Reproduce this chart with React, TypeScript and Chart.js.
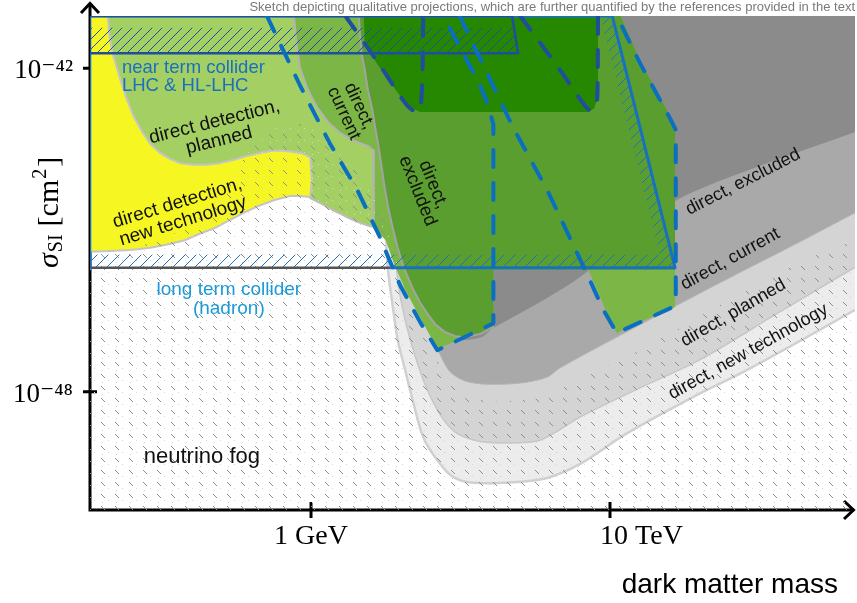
import React, { useEffect, useRef } from 'react';
import { Chart, registerables } from 'chart.js';

Chart.register(...registerables);

type Pt = [number, number];

// x = log10(dark matter mass / GeV), y = log10(sigma_SI / cm^2)
const X_RANGE: Pt = [-2.957, 7.278];
const Y_RANGE: Pt = [-50.195, -41.03];
const X_TICKS = [0, 4];
const X_TICK_LABELS = ['1 GeV', '\u2007\u2007\u2007\u2007 10 TeV'];
const Y_TICKS = [-42, -48];
const Y_TICK_LABELS = ['10⁻⁴²', '10⁻⁴⁸'];
const NOTE = 'Sketch depicting qualitative projections, which are further quantified by the references provided in the text';
const X_TITLE = 'dark matter mass';

// grey direct-detection bands (nested U shapes)
const DD_NEWTECH: Pt[] = [[1.00,-40.8],[1.00,-45.00],[1.03,-45.74],[1.10,-46.48],[1.16,-47.04],[1.26,-47.60],[1.37,-48.21],[1.50,-48.84],[1.69,-49.27],[1.90,-49.58],[2.17,-49.69],[2.70,-49.68],[3.16,-49.60],[3.60,-49.34],[4.23,-48.77],[5.11,-48.10],[5.83,-47.60],[7.28,-46.48],[7.6,-46.2],[7.6,-40.8]];
const DD_PLANNED: Pt[] = [[1.12,-40.8],[1.12,-45.00],[1.16,-45.93],[1.26,-46.67],[1.39,-47.32],[1.53,-47.88],[1.73,-48.43],[1.93,-48.75],[2.19,-48.90],[2.53,-48.95],[3.06,-48.90],[3.60,-48.47],[4.40,-47.93],[5.20,-47.41],[6.27,-46.52],[7.28,-45.69],[7.6,-45.45],[7.6,-40.8]];
const DD_CURRENT: Pt[] = [[1.59,-40.8],[1.59,-46.30],[1.62,-46.95],[1.73,-47.32],[1.86,-47.63],[2.06,-47.80],[2.33,-47.86],[2.80,-47.84],[3.16,-47.73],[3.33,-47.56],[4.40,-46.76],[5.47,-45.98],[6.54,-45.22],[7.28,-44.68],[7.6,-44.45],[7.6,-40.8]];
const DD_EXCLUDED: Pt[] = [[1.93,-40.8],[1.93,-46.97],[2.26,-47.00],[2.44,-46.82],[3.06,-46.34],[3.60,-45.87],[4.27,-45.11],[4.90,-44.44],[6.01,-43.81],[7.28,-43.18],[7.6,-43.0],[7.6,-40.8]];

// low-mass direct detection (green / yellow)
const PLANNED_EDGE: Pt[] = [[-2.73,-40.8],[-2.70,-41.38],[-2.65,-41.75],[-2.60,-41.98],[-2.53,-42.31],[-2.46,-42.59],[-2.37,-42.90],[-2.25,-43.20],[-2.14,-43.42],[-2.02,-43.57],[-1.89,-43.68],[-1.75,-43.76],[-1.58,-43.79],[-1.39,-43.79],[-1.22,-43.76],[-1.04,-43.70],[-0.86,-43.63],[-0.68,-43.57],[-0.52,-43.53],[-0.38,-43.53],[-0.25,-43.55],[-0.15,-43.57],[-0.07,-43.61],[-0.01,-43.66]];
const PLANNED_LOWER: Pt[] = [[0.96,-44.96],[0.79,-44.93],[0.62,-44.85],[0.45,-44.74],[0.29,-44.63],[0.15,-44.52],[-0.01,-44.41]];
const NEWTECH_EDGE: Pt[] = [[0.01,-44.07],[-0.01,-44.39],[-0.15,-44.37],[-0.28,-44.37],[-0.48,-44.44],[-0.68,-44.54],[-0.88,-44.67],[-1.08,-44.81],[-1.28,-44.96],[-1.49,-45.07],[-1.69,-45.19],[-1.89,-45.26],[-2.15,-45.33],[-2.42,-45.37],[-2.69,-45.39],[-3.1,-45.41]];
const CURRENT_EDGE: Pt[] = [[-0.24,-40.8],[-0.20,-41.47],[-0.15,-41.98],[-0.05,-42.37],[0.08,-42.72],[0.23,-43.00],[0.39,-43.20],[0.52,-43.31],[0.66,-43.39],[0.76,-43.44],[0.83,-43.52],[0.84,-43.79],[0.84,-44.96]];
const CURRENT_REST: Pt[] = [[1.00,-45.19],[1.10,-45.59],[1.26,-46.11],[1.46,-46.63],[1.69,-47.21],[2.06,-46.99],[2.44,-46.76],[2.44,-45.74],[3.71,-45.74],[3.84,-46.15],[3.97,-46.58],[4.09,-46.91],[4.47,-46.67],[4.87,-46.43],[4.87,-43.05],[4.40,-41.85],[4.07,-40.8]];
const EXCLUDED_EDGE: Pt[] = [[0.63,-40.8],[0.66,-41.47],[0.68,-41.75],[0.72,-42.03],[0.76,-42.40],[0.82,-42.77],[0.86,-43.11],[0.90,-43.42],[0.94,-43.79],[0.99,-44.26],[1.04,-44.63],[1.10,-45.00],[1.16,-45.33],[1.23,-45.65],[1.30,-45.89],[1.37,-46.11],[1.46,-46.35],[1.57,-46.58],[1.67,-46.76],[1.79,-46.89],[1.93,-46.97],[2.06,-46.99],[2.26,-46.93],[2.44,-46.80]];
const EXCLUDED_REST: Pt[] = [[2.44,-45.74],[4.87,-45.74],[4.87,-43.05],[4.40,-41.85],[4.07,-40.8]];
const DARK_GREEN: Pt[] = [[0.70,-40.8],[3.84,-40.8],[3.84,-42.50],[3.79,-42.74],[3.71,-42.81],[1.46,-42.81],[1.35,-42.74],[1.19,-42.51],[0.92,-41.99],[0.72,-41.57]];

// neutrino fog
const FOG: Pt[] = [[-3.1,-45.41],[-2.29,-45.30],[-1.62,-44.96],[-1.15,-44.17],[-0.82,-43.52],[-0.48,-43.11],[-0.15,-43.03],[0.19,-43.24],[0.52,-43.79],[0.82,-44.26],[1.12,-45.28],[1.19,-45.74],[1.28,-46.30],[1.46,-46.86],[1.66,-47.32],[1.79,-47.78],[2.06,-48.12],[2.53,-48.19],[3.06,-48.12],[3.60,-47.78],[4.40,-47.23],[5.47,-46.39],[6.54,-45.59],[7.6,-45.0],[7.6,-50.4],[-3.1,-50.4]];

// colliders
const NEAR_BAND: Pt[] = [[-3.1,-41.25],[2.72,-41.25],[2.76,-41.70],[-3.1,-41.70]];
const NEAR_EDGE: Pt[] = [[-2.96,-41.03],[2.69,-41.03],[2.77,-41.72],[-2.96,-41.72],[-2.96,-41.03]];
const LONG_BAND: Pt[] = [[-3.1,-45.46],[4.67,-45.46],[3.87,-41.03],[4.03,-41.03],[4.87,-45.70],[-3.1,-45.70]];
const LONG_EDGE: Pt[] = [[1.06,-45.70],[4.87,-45.70],[4.03,-41.03],[-2.96,-41.03],[-2.96,-45.70]];
const LONG_EDGE_LEFT: Pt[] = [[-2.96,-45.70],[1.06,-45.70]];
const CONTOUR_A: Pt[] = [[-0.59,-41.03],[-0.15,-42.31],[0.25,-43.39],[0.62,-44.26],[0.92,-45.13],[1.19,-46.02],[1.46,-46.71],[1.69,-47.23],[2.44,-46.73],[2.44,-43.05],[2.37,-42.68],[2.26,-42.31],[1.77,-41.03]];
const CONTOUR_B: Pt[] = [[1.99,-41.03],[2.70,-43.09],[3.16,-44.26],[3.56,-45.43],[3.73,-45.93],[3.91,-46.48],[4.09,-46.91],[4.84,-46.43],[4.88,-46.30],[4.88,-43.14],[4.80,-42.92],[4.40,-41.90],[4.09,-41.03]];
const CONTOUR_C: Pt[] = [[0.46,-41.03],[0.92,-41.94],[1.23,-42.59],[1.34,-42.76],[1.43,-42.81],[1.47,-42.66],[1.49,-42.22],[1.50,-41.03]];
const CONTOUR_D: Pt[] = [[2.80,-41.03],[3.33,-42.03],[3.63,-42.63],[3.72,-42.77],[3.79,-42.77],[3.83,-42.55],[3.84,-41.03]];

// region annotations (anchor in data coordinates)
const ANNOTATIONS = [
  { lines: ['near term collider', 'LHC & HL-LHC'], x: -2.53, y: -42.16, angle: 0, size: 18.5, lh: 18, color: '#1a6fc0', align: 'left' },
  { lines: ['direct detection,', 'planned'], x: -1.26, y: -43.17, angle: -14, size: 19, lh: 19, color: '#111', align: 'center' },
  { lines: ['direct detection,', 'new technology'], x: -1.75, y: -44.67, angle: -17, size: 19, lh: 19, color: '#111', align: 'center' },
  { lines: ['direct,', 'current'], x: 0.54, y: -42.77, angle: 65, size: 18, lh: 17, color: '#111', align: 'center' },
  { lines: ['direct,', 'excluded'], x: 1.53, y: -44.22, angle: 68, size: 18.5, lh: 17, color: '#111', align: 'center' },
  { lines: ['direct, excluded'], x: 5.78, y: -44.11, angle: -27, size: 18, lh: 18, color: '#111', align: 'center' },
  { lines: ['direct, current'], x: 5.61, y: -45.54, angle: -29, size: 18, lh: 18, color: '#111', align: 'center' },
  { lines: ['direct, planned'], x: 5.65, y: -46.54, angle: -30, size: 18, lh: 18, color: '#111', align: 'center' },
  { lines: ['direct, new technology'], x: 5.85, y: -47.26, angle: -29, size: 18, lh: 18, color: '#111', align: 'center' },
  { lines: ['long term collider', '(hadron)'], x: -1.10, y: -46.29, angle: 0, size: 19, lh: 19, color: '#1b9ad7', align: 'center' },
  { lines: ['neutrino fog'], x: -1.46, y: -49.21, angle: 0, size: 22, lh: 22, color: '#111', align: 'center' },
];

const SANS = "'Liberation Sans', Arial, sans-serif";
const SERIF = "'Liberation Serif', 'DejaVu Serif', serif";

const toXY = (pts: Pt[]) => pts.map(([x, y]) => ({ x, y }));

function area(label: string, pts: Pt[], bg: any, border = 'transparent', bw = 0, tension = 0) {
  return { label, data: toXY(pts), fill: 'shape', backgroundColor: bg, borderColor: border, borderWidth: bw, tension, pointRadius: 0, pointHoverRadius: 0, borderJoinStyle: 'round' };
}
function outline(label: string, pts: Pt[], color: string, bw: number, dash: number[] = [], tension = 0, cap = 'round') {
  return { label, data: toXY(pts), fill: false, backgroundColor: 'transparent', borderColor: color, borderWidth: bw, borderDash: dash, tension, pointRadius: 0, pointHoverRadius: 0, borderCapStyle: cap, borderJoinStyle: 'round' };
}

const axesPlugin = {
  id: 'sketchAxes',
  beforeDatasetsDraw(chart: any) {
    const { ctx, chartArea: a, scales } = chart;
    ctx.save();
    ctx.strokeStyle = '#000';
    ctx.lineWidth = 3;
    ctx.lineJoin = 'miter';
    ctx.beginPath();
    ctx.moveTo(a.left, a.bottom + 1.5);
    ctx.lineTo(a.left, a.top - 12);
    ctx.moveTo(a.left - 1.5, a.bottom);
    ctx.lineTo(a.right - 1, a.bottom);
    ctx.stroke();
    ctx.beginPath();
    ctx.moveTo(a.left - 9, a.top - 3);
    ctx.lineTo(a.left, a.top - 12.5);
    ctx.lineTo(a.left + 9, a.top - 3);
    ctx.moveTo(a.right - 11, a.bottom - 9);
    ctx.lineTo(a.right - 1.5, a.bottom);
    ctx.lineTo(a.right - 11, a.bottom + 9);
    ctx.stroke();
    ctx.beginPath();
    for (const v of Y_TICKS) {
      const py = scales.y.getPixelForValue(v);
      ctx.moveTo(a.left - 7, py);
      ctx.lineTo(a.left + 7, py);
    }
    for (const v of X_TICKS) {
      const px = scales.x.getPixelForValue(v);
      ctx.moveTo(px, a.bottom - 8);
      ctx.lineTo(px, a.bottom + 8);
    }
    ctx.stroke();
    ctx.restore();
  },
};

const labelsPlugin = {
  id: 'sketchLabels',
  afterDatasetsDraw(chart: any) {
    const { ctx, scales } = chart;
    for (const l of ANNOTATIONS) {
      const px = scales.x.getPixelForValue(l.x);
      const py = scales.y.getPixelForValue(l.y);
      ctx.save();
      ctx.translate(px, py);
      ctx.rotate((l.angle * Math.PI) / 180);
      ctx.font = `${l.size}px ${SANS}`;
      ctx.fillStyle = l.color;
      ctx.textAlign = l.align;
      ctx.textBaseline = 'middle';
      const n = l.lines.length;
      l.lines.forEach((t, i) => ctx.fillText(t, 0, (i - (n - 1) / 2) * l.lh));
      ctx.restore();
    }
  },
  afterDraw(chart: any) {
    const { ctx, chartArea: a } = chart;
    ctx.save();
    ctx.fillStyle = '#000';
    ctx.font = `28px ${SANS}`;
    ctx.textAlign = 'right';
    ctx.textBaseline = 'alphabetic';
    ctx.fillText(X_TITLE, a.right - 17, a.bottom + 83);
    // y axis title: sigma_SI [cm^2]
    ctx.translate(a.left - 32, a.top + 252);
    ctx.rotate(-Math.PI / 2);
    ctx.textAlign = 'left';
    let cx = 0;
    const big = `30px ${SERIF}`;
    const small = `20px ${SERIF}`;
    ctx.font = `italic ${big}`;
    ctx.fillText('σ', cx, 0);
    cx += ctx.measureText('σ').width + 1;
    ctx.font = small;
    ctx.fillText('SI', cx, 4);
    cx += ctx.measureText('SI').width + 8;
    ctx.font = big;
    ctx.fillText('[cm', cx, 0);
    cx += ctx.measureText('[cm').width + 1;
    ctx.font = small;
    ctx.fillText('2', cx, -12);
    cx += ctx.measureText('2').width + 2;
    ctx.font = big;
    ctx.fillText(']', cx, 0);
    ctx.restore();
  },
};

export default function App() {
  const ref = useRef<HTMLCanvasElement>(null);
  useEffect(() => {
    const canvas = ref.current as HTMLCanvasElement;
    const ctx = canvas.getContext('2d') as CanvasRenderingContext2D;
    const makePattern = (w: number, h: number, draw: (g: CanvasRenderingContext2D) => void) => {
      const c = document.createElement('canvas');
      c.width = w;
      c.height = h;
      const g = c.getContext('2d') as CanvasRenderingContext2D;
      draw(g);
      return ctx.createPattern(c, 'repeat');
    };
    const fog = makePattern(14, 12, (g) => {
      g.strokeStyle = '#8e8e8e';
      g.lineWidth = 1;
      g.beginPath();
      g.moveTo(3, 2);
      g.lineTo(7, 6);
      g.stroke();
      g.fillStyle = '#d6d6d6';
      g.fillRect(10, 8, 1, 1);
      g.fillRect(4, 10, 1, 1);
    });
    const hatch = (color: string, s: number) =>
      makePattern(s, s, (g) => {
        g.strokeStyle = color;
        g.lineWidth = 1;
        g.beginPath();
        g.moveTo(-1, s + 1);
        g.lineTo(s + 1, -1);
        g.moveTo(-1, 1);
        g.lineTo(1, -1);
        g.moveTo(s - 1, s + 1);
        g.lineTo(s + 1, s - 1);
        g.stroke();
      });

    const layers: any[] = [
      area('direct, new technology', DD_NEWTECH, '#ececec', '#d0d0d0', 2.5, 0.3),
      area('direct, planned', DD_PLANNED, '#d4d4d4', '#c6c6c6', 1.5, 0.3),
      area('direct, current', DD_CURRENT, '#a9a9a9', '#b4b4b4', 1, 0.3),
      area('direct, excluded', DD_EXCLUDED, '#8b8b8b', 'transparent', 0, 0.3),
      area('direct detection, planned', [[-2.73, -40.8], [0.92, -40.8], ...PLANNED_LOWER, ...[...PLANNED_EDGE].reverse()], '#a3cf63', '#bdbdbd', 2),
      area('direct detection, new technology', [[-3.1, -40.8], ...PLANNED_EDGE, ...NEWTECH_EDGE], '#f6f622', '#c4c4c4', 2),
      area('direct, current (low mass)', [...CURRENT_EDGE, ...CURRENT_REST], '#7cb646'),
      outline('current boundary', CURRENT_EDGE, '#b3b3b3', 2),
      area('neutrino fog', FOG, fog),
      area('direct, excluded (low mass)', [...EXCLUDED_EDGE, ...EXCLUDED_REST], '#5a9e2f'),
      outline('excluded boundary', EXCLUDED_EDGE, '#a3a3a3', 2),
      area('overlap', DARK_GREEN, '#258800'),
      area('long term collider hatch', LONG_BAND, hatch('#1a73c2', 11)),
      area('near term collider hatch', NEAR_BAND, hatch('#1f4f9e', 10)),
      outline('long term collider edge (left)', LONG_EDGE_LEFT, '#555555', 2.5, [], 0, 'butt'),
      outline('long term collider', LONG_EDGE, '#1870c0', 3, [], 0, 'butt'),
      outline('near term collider', NEAR_EDGE, '#1f4e9d', 2.5, [], 0, 'butt'),
      outline('contour A', CONTOUR_A, '#0b6fc1', 4, [17, 16]),
      outline('contour B', CONTOUR_B, '#0b6fc1', 4, [17, 16]),
      outline('contour C', CONTOUR_C, '#1f4e9d', 4, [17, 16], 0.2),
      outline('contour D', CONTOUR_D, '#1f4e9d', 4, [17, 16], 0.2),
    ];
    const n = layers.length;
    layers.forEach((d, i) => (d.order = n - i));

    const chart = new Chart(canvas, {
      type: 'line',
      data: { datasets: layers },
      plugins: [axesPlugin, labelsPlugin],
      options: {
        animation: false,
        responsive: false,
        events: [],
        layout: { padding: { left: 8, right: 2, top: 0, bottom: 0 } },
        plugins: {
          legend: { display: false },
          tooltip: { enabled: false },
          title: {
            display: true,
            text: NOTE,
            align: 'end',
            color: '#7a7a7a',
            font: { family: SANS, size: 13, weight: 'normal' },
            padding: { top: 0, bottom: 0.4 },
          },
        },
        scales: {
          x: {
            type: 'linear',
            min: X_RANGE[0],
            max: X_RANGE[1],
            grid: { display: false, drawTicks: false },
            border: { display: false },
            afterBuildTicks: (s: any) => { s.ticks = X_TICKS.map((value) => ({ value })); },
            afterFit: (s: any) => { s.height = 93; s.paddingLeft = 0; s.paddingRight = 0; },
            ticks: {
              autoSkip: false,
              maxRotation: 0,
              padding: 10,
              color: '#000',
              font: { family: SERIF, size: 28 },
              callback: (_v: any, i: number) => X_TICK_LABELS[i],
            },
          },
          y: {
            type: 'linear',
            min: Y_RANGE[0],
            max: Y_RANGE[1],
            grid: { display: false, drawTicks: false },
            border: { display: false },
            afterBuildTicks: (s: any) => { s.ticks = Y_TICKS.map((value) => ({ value })); },
            afterFit: (s: any) => { s.width = 82; s.paddingTop = 0; s.paddingBottom = 0; },
            ticks: {
              autoSkip: false,
              padding: 17,
              labelOffset: 3,
              color: '#000',
              font: { family: SERIF, size: 27 },
              callback: (_v: any, i: number) => Y_TICK_LABELS[i],
            },
          },
        },
      } as any,
    } as any);
    return () => chart.destroy();
  }, []);

  return (
    <div style={{ position: 'absolute', left: 0, top: 0, width: 857, height: 603, background: '#fff' }}>
      <canvas ref={ref} width={857} height={603} style={{ width: 857, height: 603, display: 'block' }} />
    </div>
  );
}
